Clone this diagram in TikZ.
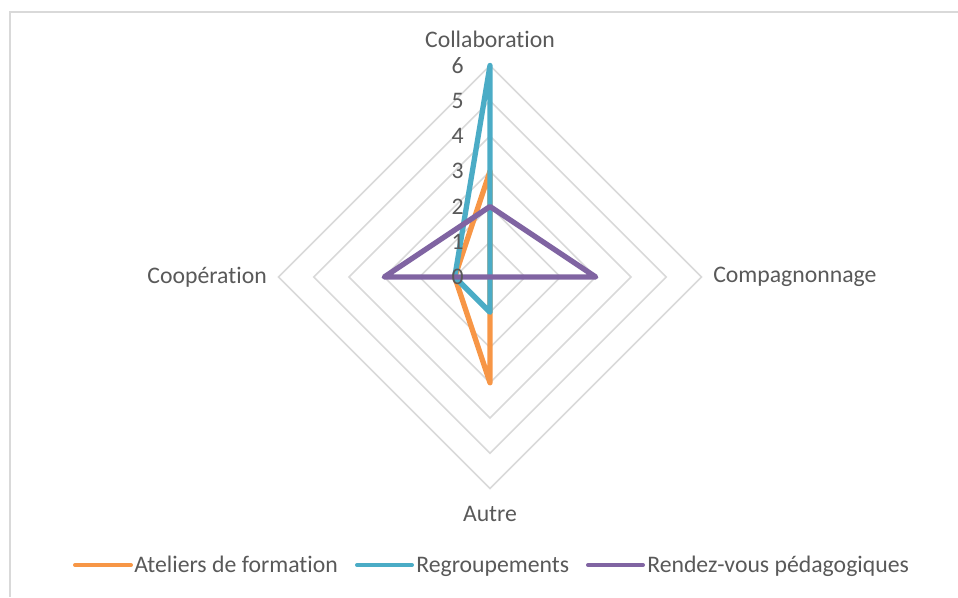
\documentclass[tikz,border=0pt]{standalone}
\usepackage{fontspec}
\setmainfont{Carlito}[Ligatures=NoCommon]
\usetikzlibrary{positioning}
\definecolor{atelier}{HTML}{F79646}
\definecolor{regroup}{HTML}{4BACC6}
\definecolor{rdv}{HTML}{8064A2}
\definecolor{grille}{HTML}{D9D9D9}
\definecolor{texte}{HTML}{595959}

\begin{document}
\begin{tikzpicture}[x=0.75pt,y=-0.75pt,
  lbl/.style={text=texte,font=\fontsize{17.8}{21}\selectfont,inner sep=0pt},
  gridline/.style={draw=grille,line width=1.1pt},
  serie/.style={line width=4pt,line join=round,line cap=round},
  legline/.style={line width=3pt,line cap=round}]
\useasboundingbox (0,0) rectangle (958,597);
\draw[gridline] (958,12) -- (10,12) -- (10,597);

\begin{scope}[shift={(490,277)},x=26.44pt,y=26.44pt]
   \coordinate (O) at (0,0);
   \foreach \r in {1,...,6}
      \draw[gridline] (0,\r) -- (\r,0) -- (0,-\r) -- (-\r,0) -- cycle;

   \coordinate (haut) at (0,6);
   \coordinate (droite) at (6,0);
   \coordinate (bas) at (0,-6);
   \coordinate (gauche) at (-6,0);
   \node[lbl,above=13.5pt of haut] (col) {Collaboration};
   \node[lbl,right=8.6pt of droite] (comp) {Compagnonnage};
   \node[lbl,below=13pt of bas] (autre) {Autre};
   \node[lbl,left=8.6pt of gauche] (coop) {Coopération};

   \coordinate (at-col) at (0,3);
   \coordinate (at-com) at (0,0);
   \coordinate (at-aut) at (0,-3);
   \coordinate (at-coo) at (-1,0);
   \coordinate (rg-col) at (0,6);
   \coordinate (rg-com) at (0,0);
   \coordinate (rg-aut) at (0,-1);
   \coordinate (rg-coo) at (-1,0);
   \coordinate (rv-col) at (0,2);
   \coordinate (rv-com) at (3,0);
   \coordinate (rv-aut) at (0,0);
   \coordinate (rv-coo) at (-3,0);

   \draw[serie,atelier] (at-col) -- (at-com) -- (at-aut) -- (at-coo) -- cycle;
   \draw[serie,regroup] (rg-col) -- (rg-com) -- (rg-aut) -- (rg-coo) -- cycle;
   \draw[serie,rdv] (rv-col) -- (rv-com) -- (rv-aut) -- (rv-coo) -- cycle;

   \foreach \r in {0,...,6}
      \node[lbl,anchor=east] (n\r) at (-0.74,\r) {\r};
\end{scope}

\coordinate (at-l1) at (75,565);
\coordinate (at-l2) at (131,565);
\coordinate (rg-l1) at (357,565);
\coordinate (rg-l2) at (412,565);
\coordinate (rv-l1) at (588,565);
\coordinate (rv-l2) at (643,565);
\node[lbl,anchor=base west] (at-leg) at (134,572) {Ateliers de formation};
\node[lbl,anchor=base west] (rg-leg) at (416,572) {Regroupements};
\node[lbl,anchor=base west] (rv-leg) at (647,572) {Rendez-vous pédagogiques};
\draw[legline,atelier] (at-l1) -- (at-l2);
\draw[legline,regroup] (rg-l1) -- (rg-l2);
\draw[legline,rdv] (rv-l1) -- (rv-l2);
\end{tikzpicture}
\end{document}
